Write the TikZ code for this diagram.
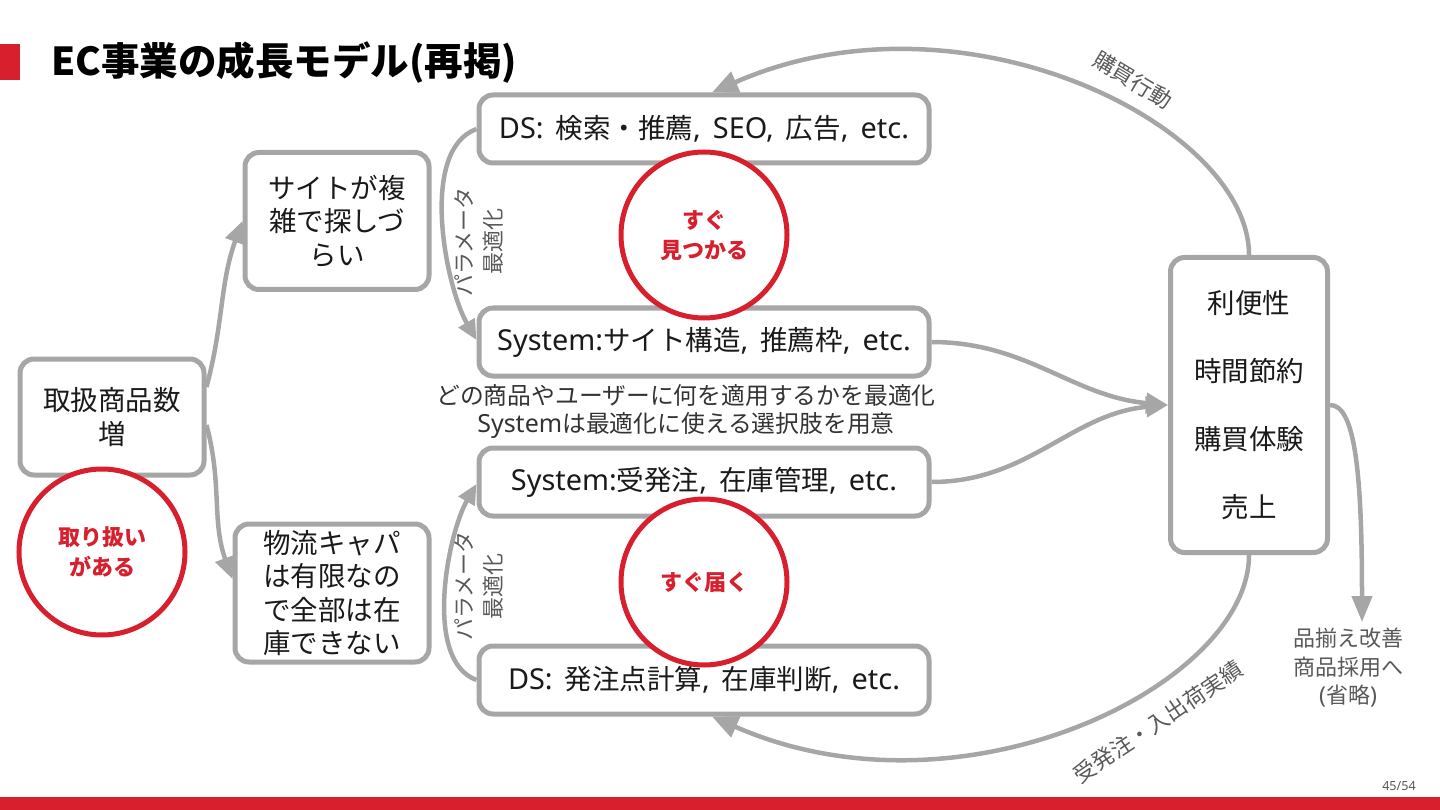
\documentclass[tikz,border=0pt]{standalone}
\usepackage{fontspec}
\setmainfont{Noto Sans CJK JP}
\newfontfamily\lat{Noto Sans}[Scale=1.05,WordSpace=1.6]
\usetikzlibrary{arrows.meta}
\definecolor{ecred}{HTML}{D71F2D}
\definecolor{bgray}{HTML}{A6A6A6}
\definecolor{tgray}{HTML}{595959}
\definecolor{tdark}{HTML}{1A1A1A}
\definecolor{tmid}{HTML}{333333}
\begin{document}
\begin{tikzpicture}[x=1pt,y=-1pt,
  box/.style={draw=bgray, line width=5pt, rounded corners=14pt, fill=white, align=center, inner sep=0pt, text=tdark, font=\fontsize{27.5}{33.5}\selectfont},
  ring/.style={circle, draw=ecred, line width=5pt, fill=white, minimum size=166pt, inner sep=0pt, align=center, text=ecred, font=\bfseries\fontsize{22}{30}\selectfont},
  arr/.style={draw=bgray, line width=4.5pt, -{Triangle[length=22pt,width=20pt]}},
  lbl/.style={text=tgray, align=center, inner sep=0pt, font=\fontsize{22}{28.5}\selectfont}]
\useasboundingbox (0,0) rectangle (1440,810);
% header / footer
\fill[ecred] (0,44) rectangle (20,80);
\node[anchor=west, inner sep=0pt, font=\bfseries\fontsize{38.5}{42}\selectfont] (title) at (51,63) {EC事業の成長モデル(再掲)};
\fill[ecred] (0,797) rectangle (1440,810);
\node[text=tgray, inner sep=0pt, font=\lat\fontsize{12}{15}\selectfont] (page) at (1399,786) {45/54};
% boxes
\node[box, minimum width=184pt, minimum height=116pt] (b1) at (112,417) {取扱商品数\\増};
\node[box, minimum width=184pt, minimum height=137pt] (b2) at (337,221) {サイトが複\\雑で探しづ\\らい};
\node[box, minimum width=194pt, minimum height=138pt] (b3) at (332,593) {物流キャパ\\は有限なの\\で全部は在\\庫できない};
\node[box, minimum width=450pt, minimum height=68pt] (d1) at (704,129) {{\lat DS: }検索・推薦{\lat , SEO, }広告{\lat , etc.}};
\node[box, minimum width=450pt, minimum height=68pt] (s1) at (704,342) {{\lat System:}サイト構造{\lat , }推薦枠{\lat , etc.}};
\node[box, minimum width=450pt, minimum height=68pt] (s2) at (704,482) {{\lat System:}受発注{\lat , }在庫管理{\lat , etc.}};
\node[box, minimum width=450pt, minimum height=68pt] (d2) at (704,680) {{\lat DS: }発注点計算{\lat , }在庫判断{\lat , etc.}};
\node[box, minimum width=157pt, minimum height=295pt, font=\fontsize{27.5}{68}\selectfont] (r) at (1249,405) {利便性\\時間節約\\購買体験\\売上};
% middle text
\node[lbl, text=tmid, font=\fontsize{23.8}{28}\selectfont] (mid) at (686,412) {どの商品やユーザーに何を適用するかを最適化\\{\lat System}は最適化に使える選択肢を用意};
% connectors
\draw[arr] ([yshift=30pt]b1.east) to[out=75,in=250] (b2.west);
\draw[arr] ([yshift=-8pt]b1.east) to[out=-75,in=110] ([yshift=14pt]b3.west);
\draw[arr, -{Triangle[length=20pt,width=18pt]}] (d1.west) to[out=200,in=120,looseness=0.75] ([yshift=2pt]s1.west);
\draw[arr, -{Triangle[length=20pt,width=18pt]}] (d2.west) to[out=160,in=240,looseness=0.75] ([yshift=-2pt]s2.west);
\draw[arr] (s1.east) to[out=0,in=175] (r.west);
\draw[arr] (s2.east) to[out=0,in=185] (r.west);
\draw[arr, -{Triangle[length=26pt,width=22pt]}] (r.north) .. controls +(0,-130) and +(250,-110) .. ([xshift=8pt]d1.north);
\draw[arr, -{Triangle[length=26pt,width=22pt]}] (r.south) .. controls +(0,130) and +(250,110) .. ([xshift=8pt]d2.south);
\coordinate (q) at (1362,622);
\draw[arr, -{Triangle[length=26pt,width=20pt]}] (r.east) .. controls +(25,0) and +(0,-150) .. (q);
% labels
\node[lbl] (imp) at (1348,668) {品揃え改善\\商品採用へ\\{\lat (}省略{\lat )}};
\node[lbl, rotate=-31] (buy) at (1133,80) {購買行動};
\node[lbl, rotate=34] (ord) at (1158,722) {受発注・入出荷実績};
\node[lbl, rotate=90] (pm1) at (479,242) {パラメータ\\最適化};
\node[lbl, rotate=90] (pm2) at (479,586) {パラメータ\\最適化};
% circles
\node[ring] (c1) at (102,552) {取り扱い\\がある};
\node[ring] (c2) at (704,235) {すぐ\\見つかる};
\node[ring] (c3) at (704,582) {すぐ届く};
\end{tikzpicture}
\end{document}
